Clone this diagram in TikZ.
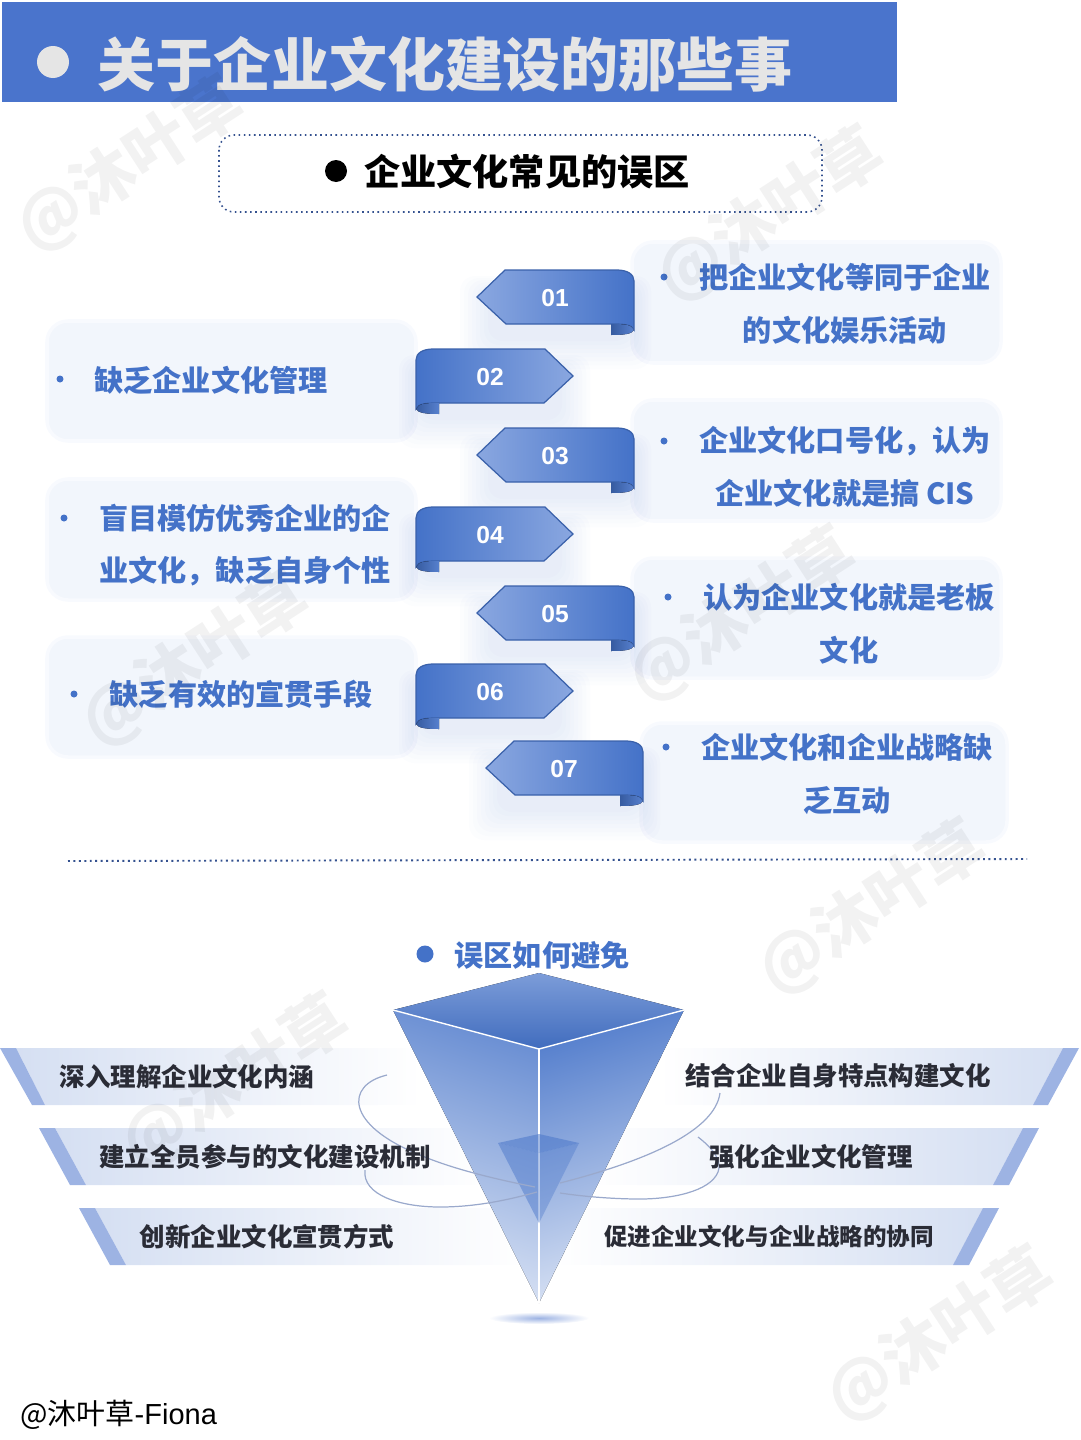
\documentclass[tikz,border=0pt]{standalone}
\usepackage{fontspec}
\usetikzlibrary{fadings}
\setmainfont{Liberation Sans}
\newfontfamily\cjk{Noto Sans CJK SC}
\definecolor{headblue}{HTML}{4A74CC}
\definecolor{mainblue}{HTML}{4472C8}
\definecolor{lightblue}{HTML}{8AA7E0}
\definecolor{cardfill}{HTML}{F2F6FC}
\definecolor{stripeblue}{HTML}{9DB3E3}
\definecolor{bandfill}{HTML}{D5DFF2}
\definecolor{bandtext}{HTML}{2A2C36}
\definecolor{orbitline}{HTML}{9AA9CC}
\tikzset{
    card/.style={fill=cardfill, draw=cardfill!50!white, line width=2pt, rounded corners=0.42cm},
    cardlabel/.style={text=mainblue, align=center, font=\cjk\bfseries\fontsize{16.6pt}{30pt}\selectfont},
    bandlabel/.style={text=bandtext, font=\cjk\bfseries\fontsize{14.5pt}{18pt}\selectfont},
    marklabel/.style={text=white, font=\bfseries\fontsize{14pt}{16pt}\selectfont},
    wmark/.style={text=black, opacity=0.05, rotate=33, font=\cjk\bfseries\fontsize{36pt}{40pt}\selectfont},
    ribbonodd/.style={left color=lightblue, middle color=mainblue, right color=mainblue},
    ribboneven/.style={left color=mainblue, middle color=mainblue!75!lightblue, right color=lightblue},
    orbit/.style={draw=orbitline, line width=0.7pt},
}
\begin{document}
\begin{tikzpicture}[x=0.02cm, y=-0.02cm]
    \useasboundingbox (0,0) rectangle (1080,1440);

    % --- Testata ---
    \fill[headblue] (2,2) rectangle (897,102);
    \fill[black!10] (53,62) circle (16);
    \node[text=black!10, font=\cjk\bfseries\fontsize{33pt}{40pt}\selectfont] (title) at (445,64) {关于企业文化建设的那些事};

    \draw[headblue!70!black, line width=0.9pt, dotted, rounded corners=0.3cm] (219,135) rectangle (822,212);
    \fill[black] (336,171) circle (11);
    \node[font=\cjk\bfseries\fontsize{20.6pt}{24pt}\selectfont] (subtitle) at (527,172) {企业文化常见的误区};

    % --- Riquadri ---
    \draw[card] (632,242) rectangle (1001,363);
    \draw[card] (632,400) rectangle (1001,521);
    \draw[card] (632,558) rectangle (1001,678);
    \draw[card] (641,723) rectangle (1007,842);
    \draw[card] (47,321) rectangle (416,441);
    \draw[card] (47,479) rectangle (416,600);
    \draw[card] (47,637) rectangle (416,757);

    % --- Nastri numerati ---
    \foreach \rname/\px/\py/\sx/\tx/\rstyle in {01/477/297/1/78/ribbonodd, 02/573/376/-1/-83/ribboneven, 03/477/455/1/78/ribbonodd, 04/573/534/-1/-83/ribboneven, 05/477/613/1/78/ribbonodd, 06/573/691/-1/-83/ribboneven, 07/486/768/1/78/ribbonodd} {
        \begin{scope}[shift={(\px,\py)}]
            \begin{scope}[xscale=\sx]
                % Ombra morbida
                \foreach \k in {1,...,8} {
                    \fill[mainblue, opacity=0.014, rounded corners=0.3cm] (15-4*\k,-5-2*\k) rectangle (150+3*\k,40+4*\k);
                }
                \draw[mainblue!85!black, line width=0.7pt, \rstyle] (0,0) -- (28,-27) -- (140,-27)
                    .. controls (150,-27) and (157,-23) .. (157,-16) -- (157,33)
                    .. controls (155,27) and (145,27) .. (134,27) -- (29,27) -- cycle;
                % Piega
                \fill[left color=mainblue!80!black, right color=mainblue!90!white] (134,27) -- (134,38)
                    .. controls (147,38) and (155,37) .. (157,33)
                    .. controls (155,27) and (145,27) .. (134,27) -- cycle;
            \end{scope}
            \node[marklabel] (mark\rname) at (\tx,1) {\rname};
        \end{scope}
    }

    % --- Testi dei riquadri ---
    \fill[mainblue] (664,277) circle (3.5);
    \node[cardlabel] (card01) at (845,304) {把企业文化等同于企业\\的文化娱乐活动};
    \fill[mainblue] (60,379) circle (3.5);
    \node[cardlabel] (card02) at (211,380) {缺乏企业文化管理};
    \fill[mainblue] (664,441) circle (3.5);
    \node[cardlabel] (card03) at (845,467) {企业文化口号化，认为\\企业文化就是搞 CIS};
    \fill[mainblue] (64,518) circle (3.5);
    \node[cardlabel] (card04) at (245,545) {盲目模仿优秀企业的企\\业文化，缺乏自身个性};
    \fill[mainblue] (668,597) circle (3.5);
    \node[cardlabel] (card05) at (849,624) {认为企业文化就是老板\\文化};
    \fill[mainblue] (74,694) circle (3.5);
    \node[cardlabel] (card06) at (241,694) {缺乏有效的宣贯手段};
    \fill[mainblue] (666,747) circle (3.5);
    \node[cardlabel] (card07) at (847,774) {企业文化和企业战略缺\\乏互动};

    % Separatore
    \draw[headblue!70!black, line width=1.1pt, dotted] (68,861) -- (1027,859);

    % --- Secondo titolo ---
    \fill[mainblue] (425,954) circle (8.5);
    \node[cardlabel] (howto) at (542,955) {误区如何避免};

    % --- Fasce a sinistra ---
    \fill[bandfill, path fading=east] (16,1048) -- (420,1048) -- (420,1105) -- (45,1105) -- cycle;
    \fill[stripeblue] (0,1048) -- (16,1048) -- (45,1105) -- (32,1105) -- cycle;
    \fill[bandfill, path fading=east] (55,1128) -- (490,1128) -- (490,1185) -- (86,1185) -- cycle;
    \fill[stripeblue] (39,1128) -- (55,1128) -- (86,1185) -- (70,1185) -- cycle;
    \fill[bandfill, path fading=east] (95,1208) -- (525,1208) -- (525,1265) -- (126,1265) -- cycle;
    \fill[stripeblue] (79,1208) -- (95,1208) -- (126,1265) -- (110,1265) -- cycle;

    % --- Fasce a destra ---
    \fill[bandfill, path fading=west] (1063,1048) -- (660,1048) -- (660,1105) -- (1033,1105) -- cycle;
    \fill[stripeblue] (1079,1048) -- (1063,1048) -- (1033,1105) -- (1048,1105) -- cycle;
    \fill[bandfill, path fading=west] (1023,1128) -- (590,1128) -- (590,1185) -- (993,1185) -- cycle;
    \fill[stripeblue] (1039,1128) -- (1023,1128) -- (993,1185) -- (1009,1185) -- cycle;
    \fill[bandfill, path fading=west] (983,1208) -- (555,1208) -- (555,1265) -- (953,1265) -- cycle;
    \fill[stripeblue] (999,1208) -- (983,1208) -- (953,1265) -- (969,1265) -- cycle;

    % --- Piramide rovesciata ---
    \shade[inner color=stripeblue, outer color=white, shading=radial] (539,1318) ellipse (50 and 6);
    \fill[top color=mainblue!80!white, bottom color=mainblue!20!white, shading angle=-18] (393,1010) -- (539,1049) -- (539,1303) -- cycle;
    \fill[top color=mainblue!90!white, bottom color=mainblue!20!white, shading angle=18] (684,1010) -- (539,1049) -- (539,1303) -- cycle;
    \fill[top color=mainblue!70!white, bottom color=mainblue!95!black] (539,973) -- (684,1010) -- (539,1049) -- (393,1010) -- cycle;
    \draw[white, line width=0.8pt] (393,1010) -- (539,1049) -- (684,1010);
    \draw[white, line width=1pt] (539,1049) -- (539,1303);

    % Piramide interna
    \fill[mainblue, fill opacity=0.45] (498,1143) -- (539,1153) -- (539,1223) -- cycle;
    \fill[mainblue, fill opacity=0.35] (579,1143) -- (539,1153) -- (539,1223) -- cycle;
    \fill[mainblue, fill opacity=0.5] (539,1134) -- (579,1143) -- (539,1153) -- (498,1143) -- cycle;

    % Orbite
    \draw[orbit] (387,1075) .. controls (345,1085) and (345,1125) .. (420,1155) .. controls (455,1170) and (500,1180) .. (535,1187);
    \draw[orbit] (720,1093) .. controls (715,1130) and (650,1160) .. (560,1183);
    \draw[orbit] (365,1170) .. controls (362,1195) and (400,1207) .. (440,1207) .. controls (480,1207) and (515,1198) .. (537,1192);
    \draw[orbit] (698,1137) .. controls (715,1150) and (722,1162) .. (718,1172) .. controls (710,1192) and (670,1199) .. (640,1199) .. controls (610,1199) and (580,1196) .. (560,1193);

    % --- Testi delle fasce ---
    \node[bandlabel] (band1) at (187,1077) {深入理解企业文化内涵};
    \node[bandlabel] (band2) at (265,1157) {建立全员参与的文化建设机制};
    \node[bandlabel] (band3) at (267,1237) {创新企业文化宣贯方式};
    \node[bandlabel] (band4) at (838,1076) {结合企业自身特点构建文化};
    \node[bandlabel] (band5) at (811,1157) {强化企业文化管理};
    \node[bandlabel, font=\cjk\bfseries\fontsize{13.4pt}{18pt}\selectfont] (band6) at (769,1236) {促进企业文化与企业战略的协同};

    % --- Filigrana ---
    \foreach \wname/\wx/\wy in {a/130/165, b/770/215, c/742/615, d/195/660, e/235/1082, f/872/908, g/940/1335} {
        \node[wmark] (wm\wname) at (\wx,\wy) {@沐叶草};
    }

    % Firma
    \node[anchor=west, inner sep=0pt, font=\fontsize{16.5pt}{20pt}\selectfont] (sign) at (20,1415) {{\cjk @沐叶草}-Fiona};
\end{tikzpicture}
\end{document}
